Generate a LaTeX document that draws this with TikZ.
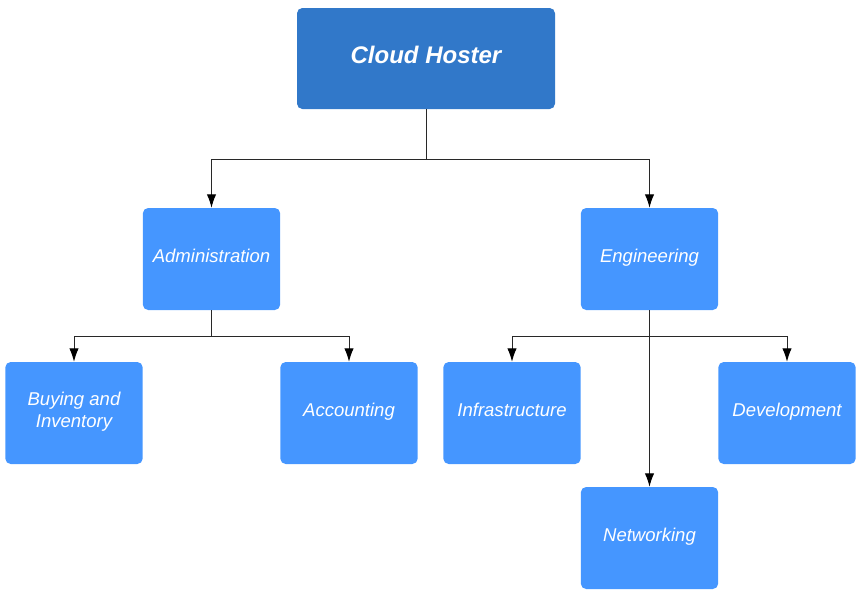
\documentclass[tikz,border=0pt]{standalone}
\usepackage{fontspec}
\setmainfont{Liberation Sans}
\usetikzlibrary{arrows.meta}
\definecolor{topblue}{RGB}{49,120,201}
\definecolor{boxblue}{RGB}{69,150,255}
\definecolor{linegray}{RGB}{40,40,40}
\tikzset{
	unitbox/.style={draw=none, fill=boxblue, rounded corners=4pt, text=white,
		minimum width=103pt, minimum height=76.5pt, align=center, inner sep=2pt,
		text depth=4.5pt, font=\fontsize{13.9}{16.5}\selectfont\itshape},
	headbox/.style={unitbox, fill=topblue, minimum width=193.5pt, minimum height=75.75pt,
		text depth=6pt, font=\fontsize{18}{21}\selectfont\bfseries\itshape},
	arr/.style={linegray, line width=0.75pt, -{Latex[length=10pt,width=7pt,black]}}
}
\begin{document}
\begin{tikzpicture}[x=0.75pt,y=-0.75pt]
				%%%%% START %%%%%
				\def\drop{50}
				\def\dropsm{26}
				\useasboundingbox (0,0) rectangle (861,594);
				
				\node[headbox] (ch) at (426,58.5) {Cloud Hoster};
				
				\node[unitbox] (adm) at (211.5,259) {Administration};
				\node[unitbox] (eng) at (649.5,259) {Engineering};
				
				\node[unitbox] (buy) at (74,413) {Buying and\\Inventory};
				\node[unitbox] (acc) at (349,413) {Accounting};
				\node[unitbox] (inf) at (512,413) {Infrastructure};
				\node[unitbox] (dev) at (787,413) {Development};
				\node[unitbox] (net) at (649.5,538) {Networking};
				
				\draw[arr] (ch.south) -- ++(0,\drop) -| (adm.north);
				\draw[arr] (ch.south) -- ++(0,\drop) -| (eng.north);
				
				\draw[arr] (adm.south) -- ++(0,\dropsm) -| (buy.north);
				\draw[arr] (adm.south) -- ++(0,\dropsm) -| (acc.north);
				
				\draw[arr] (eng.south) -- ++(0,\dropsm) -| (inf.north);
				\draw[arr] (eng.south) -- ++(0,\dropsm) -| (dev.north);
				\draw[arr] (eng.south) -- (net.north);
				%%%%% END %%%%%
\end{tikzpicture}
\end{document}
